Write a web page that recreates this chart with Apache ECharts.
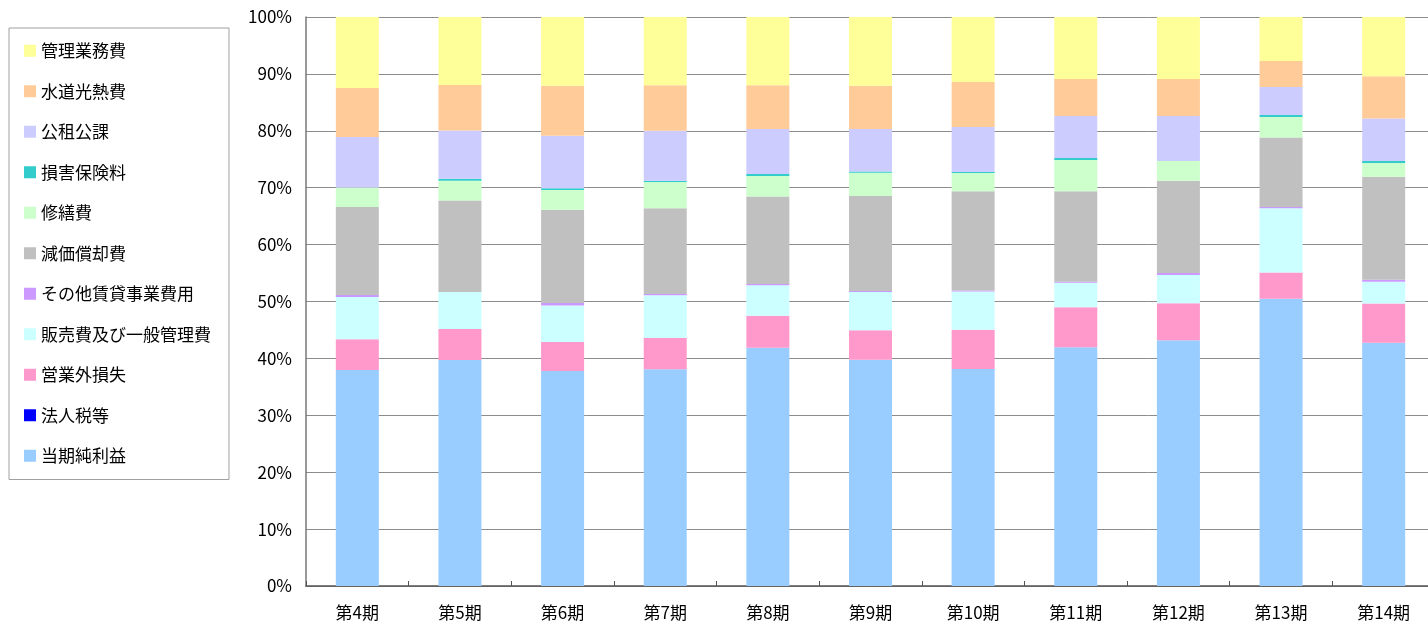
<!DOCTYPE html>
<html lang="ja">
<head>
<meta charset="utf-8">
<title>費用構成比</title>
<script src="https://cdn.jsdelivr.net/npm/echarts@6/dist/echarts.min.js"></script>
<style>
  html, body { margin: 0; padding: 0; background: #fff; }
  #chart { width: 1428px; height: 625px; }
</style>
</head>
<body>
<div id="chart"></div>
<script>
// 期
const periods = ['第4期', '第5期', '第6期', '第7期', '第8期', '第9期', '第10期', '第11期', '第12期', '第13期', '第14期']

// 各項目の構成比（%、グラフから読み取り）
const netIncome    = [38.0, 39.8, 37.8, 38.1, 41.9, 39.8, 38.1, 42.0, 43.2, 50.4, 42.7]
const corporateTax = [0, 0, 0, 0, 0, 0, 0, 0, 0, 0, 0]
const nonOpLoss    = [5.4, 5.5, 5.1, 5.5, 5.6, 5.2, 6.9, 7.0, 6.5, 4.6, 6.9]
const sga          = [7.4, 6.5, 6.4, 7.5, 5.4, 6.7, 6.7, 4.3, 5.0, 11.3, 3.8]
const otherRental  = [0.35, 0, 0.45, 0.2, 0.2, 0.2, 0.2, 0.2, 0.35, 0.2, 0.35]
const depreciation = [15.5, 16.1, 16.4, 15.1, 15.4, 16.7, 17.4, 15.9, 16.2, 12.2, 18.1]
const repairs      = [3.4, 3.5, 3.5, 4.6, 3.6, 4.1, 3.2, 5.5, 3.5, 3.6, 2.4]
const insurance    = [0, 0.35, 0.3, 0.2, 0.35, 0.2, 0.2, 0.35, 0, 0.35, 0.35]
const publicTaxes  = [8.9, 8.5, 9.2, 8.8, 7.9, 7.5, 7.9, 7.4, 7.9, 4.9, 7.5]
const utilities    = [8.6, 8.0, 8.8, 8.0, 7.7, 7.6, 7.9, 6.5, 6.5, 4.6, 7.4]
const management   = [12.5, 12.0, 12.1, 12.0, 12.0, 12.1, 11.4, 10.9, 10.9, 7.7, 10.4]

const yTicks = [0, 10, 20, 30, 40, 50, 60, 70, 80, 90, 100]

// 積み上げ順（下から）
const stackItems = [
  { name: '当期純利益', data: netIncome, color: '#99CCFF' },
  { name: '法人税等', data: corporateTax, color: '#0000FF' },
  { name: '営業外損失', data: nonOpLoss, color: '#FF99CC' },
  { name: '販売費及び一般管理費', data: sga, color: '#CCFFFF' },
  { name: 'その他賃貸事業費用', data: otherRental, color: '#CC99FF' },
  { name: '減価償却費', data: depreciation, color: '#C0C0C0' },
  { name: '修繕費', data: repairs, color: '#CCFFCC' },
  { name: '損害保険料', data: insurance, color: '#33CCCC' },
  { name: '公租公課', data: publicTaxes, color: '#CCCCFF' },
  { name: '水道光熱費', data: utilities, color: '#FFCC99' },
  { name: '管理業務費', data: management, color: '#FFFF99' }
]

// 100%積み上げ用に各期の合計で割る
const totals = periods.map((_, i) => stackItems.reduce((s, it) => s + it.data[i], 0))

const font = '"Noto Sans CJK JP", "Noto Sans", sans-serif'

const chart = echarts.init(document.getElementById('chart'))

chart.setOption({
  animation: false,
  textStyle: { fontFamily: font },
  legend: {
    orient: 'vertical',
    left: 9,
    top: 28,
    padding: [14, 18, 15, 15],
    itemGap: 23,
    itemWidth: 12,
    itemHeight: 12,
    icon: 'rect',
    backgroundColor: '#fff',
    borderColor: '#a0a0a0',
    borderWidth: 1,
    textStyle: { fontSize: 17, lineHeight: 17.5, color: '#000', fontFamily: font },
    data: stackItems.map(it => it.name).reverse()
  },
  grid: {
    left: 306,
    right: -7,
    top: 17,
    bottom: 39,
    outerBoundsMode: 'none'
  },
  xAxis: {
    type: 'category',
    data: periods,
    axisLine: { lineStyle: { color: '#555', width: 1.5 } },
    axisTick: { show: true, inside: true, length: 5, lineStyle: { color: '#555' } },
    axisLabel: { fontSize: 17, color: '#000', margin: 18, fontFamily: font }
  },
  yAxis: {
    type: 'value',
    min: yTicks[0],
    max: yTicks[yTicks.length - 1],
    interval: 10,
    axisLine: { show: true, lineStyle: { color: '#777', width: 1.5 } },
    axisTick: { show: false },
    splitLine: { lineStyle: { color: '#8c8c8c', width: 1 } },
    axisLabel: {
      fontSize: 17,
      color: '#000',
      margin: 14,
      fontFamily: font,
      formatter: v => v + '%'
    }
  },
  series: stackItems.map(it => ({
    name: it.name,
    type: 'bar',
    stack: 'total',
    barWidth: 43,
    itemStyle: { color: it.color },
    data: it.data.map((v, i) => v / totals[i] * 100)
  }))
})
</script>
</body>
</html>
